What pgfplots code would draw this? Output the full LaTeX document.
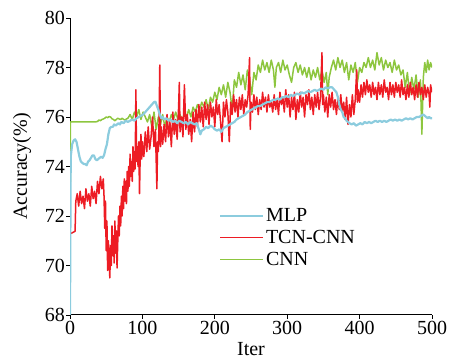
\documentclass[border=0pt]{standalone}
\usepackage{fontspec}
\setmainfont{Liberation Serif}
\usepackage{pgfplots}
\pgfplotsset{compat=1.18}
\definecolor{mlp}{RGB}{140,204,222}
\definecolor{tcn}{RGB}{237,28,36}
\definecolor{cnn}{RGB}{141,198,63}
\begin{document}
\begin{tikzpicture}
\begin{axis}[
 name=ax,
 at={(0,0)}, anchor=south west,
 scale only axis, width=362pt, height=297pt,
 xmin=0, xmax=500, ymin=68, ymax=80,
 axis lines=left, axis line style={-, line width=1pt, black},
 xtick={0,100,...,500}, ytick={68,70,...,80},
 tick align=outside, major tick length=4pt, tick style={black, line width=0.9pt},
 /pgf/number format/assume math mode=true,
 tick label style={font=\fontsize{20}{24}\selectfont},
 yticklabel style={inner sep=1pt},
 xticklabel style={inner sep=2pt},
 label style={font=\fontsize{20}{24}\selectfont},
 xlabel={Iter}, ylabel={Accuracy(\%)},
 xlabel style={at={(axis description cs:0.5,-0.1347)}, anchor=base, inner sep=0pt},
 ylabel style={at={(axis description cs:-0.1326,0.5)}, anchor=center, inner sep=0pt},
 legend style={at={(axis description cs:0.405,0.372)}, anchor=north west, draw=none, fill=none,
   font=\fontsize{20}{22}\selectfont, row sep=3pt},
 legend cell align=left,
 reverse legend,
 legend image code/.code={\draw[#1, line width=1.2pt] (0pt,0pt) -- (43pt,0pt);},
 every axis plot/.append style={line join=round},
]
\addplot[cnn, line width=1.5pt] coordinates {
(0,68)(0.5,75.8)(5,75.8)(10,75.8)(15,75.8)(20,75.8)(25,75.8)(30,75.8)(35,75.8)(38,75.82)(40,75.88)(42,75.85)(44,75.9)(46,75.92)(48,75.95)(50,76.0)(52,75.97)(54,76.02)(56,76.0)(58,75.93)(60,75.9)(62,75.85)(64,75.9)(66,75.95)(68,75.92)(70,75.9)(72,75.95)(74,75.9)(76,75.88)(78,75.92)
(80,75.95)(83,76.1)(86,75.9)(89,76.2)(92,76.0)(95,76.3)(98,75.9)(101,76.2)(104,76.0)(107,75.8)(110,76.1)(113,75.6)(116,76.2)(119,75.5)(122,76.0)(125,75.7)(128,76.1)(131,75.6)(134,76.0)(137,75.8)(140,76.1)(143,75.9)(146,76.2)(149,75.9)(152,76.1)(155,75.8)(158,76.2)(161,76.0)(164,76.3)(167,76.0)(170,76.4)(173,76.2)(176,76.5)(179,76.3)(182,76.6)(185,76.4)(188,76.7)(191,76.3)(194,76.8)(197,76.6)(200,77.0)(203,76.7)(206,77.2)(209,76.9)(212,77.3)(215,76.8)(218,77.4)(221,77.0)(224,76.3)(227,77.5)(230,77.2)(233,77.8)(236,77.3)(239,77.7)(242,77.1)(245,77.9)(248,77.5)(251,76.9)(254,77.8)(257,77.5)(260,78.1)(263,77.8)(266,78.3)(269,77.9)(272,78.2)(275,77.8)(278,78.3)(281,77.9)(283,77.2)(285,78.0)(288,78.2)(291,77.8)(294,78.3)(297,77.9)(300,78.1)(303,77.7)(306,77.4)(309,78.0)(312,78.2)(315,77.8)(318,78.1)(321,77.7)(324,78.0)(327,77.6)(330,78.0)(333,77.5)(336,77.9)(339,77.6)(342,78.0)(345,77.5)(348,77.9)(351,77.4)(354,77.8)(356,76.9)(358,77.6)(361,78.0)(364,78.3)(367,77.9)(370,78.4)(373,78.0)(376,78.3)(379,77.8)(382,78.2)(385,77.5)(388,78.1)(391,77.8)(394,78.2)(397,77.4)(400,78.0)(403,77.8)(406,78.2)(409,78.0)(412,78.4)(415,78.0)(418,78.3)(421,77.9)(424,78.6)(427,78.1)(430,78.4)(433,77.9)(436,78.3)(439,78.0)(442,78.2)(445,77.8)(448,78.3)(451,77.9)(454,78.1)(457,77.7)(460,77.9)(463,77.2)(466,77.8)(469,76.9)(472,77.6)(475,77.1)(478,77.7)(481,76.8)(484,77.5)(486,75.3)(488,77.6)(490,78.2)(492,77.8)(494,78.3)(496,77.9)(498,78.2)(500,78.0)
};
\addlegendentry{CNN}
\addplot[tcn, line width=1.5pt] coordinates {
(1,71.3)(3,71.32)(5,71.35)(7,71.38)(8,72.6)
(10,72.9)(12,72.4)(14,73.0)(16,72.5)(18,72.8)(20,72.3)(22,73.1)(24,72.6)(26,72.9)(28,72.4)(30,73.2)(32,72.7)(34,73.0)(36,72.5)(38,73.4)(40,72.9)(42,73.6)(44,73.1)(46,73.5)(47,72.8)
(48,71.5)(49,72.6)(50,70.6)(51,71.8)(52,69.8)(53,71.0)(54,70.2)(55,69.5)(56,70.8)(57,70.0)(58,71.6)(59,70.4)(60,71.2)(61,70.1)(62,71.8)(63,70.5)(64,71.4)(65,69.9)(66,71.0)(67,72.0)(68,71.2)(69,72.4)(70,71.6)(71,72.8)(72,72.0)(73,73.2)(74,72.3)(75,73.5)(76,72.6)(77,73.4)(78,72.5)(79,73.8)(80,73.0)(81,74.0)(82,73.2)(83,74.5)(84,73.6)(85,74.2)(86,73.4)(87,74.8)(88,73.8)(89,74.6)(90,73.9)(91,77.1)(92,74.2)(93,74.8)(94,74.0)(95,75.0)(96,72.9)(97,74.5)(98,75.3)(99,74.3)(100,75.0)(102,74.4)(104,75.4)(106,74.6)(108,75.6)(110,74.7)(112,75.2)(114,76.0)(116,74.8)(118,75.5)(120,73.1)(121,75.0)(122,74.6)(123,75.8)(124,78.1)(125,74.8)(126,75.6)(128,74.9)(130,75.7)(132,75.0)(134,76.1)(136,75.2)(138,75.8)(140,74.8)(142,76.2)(144,75.3)(146,75.9)(148,75.1)(150,76.4)(151,77.4)(152,75.4)(154,76.0)(156,75.2)(158,77.3)(160,75.5)(162,76.1)(164,75.3)(166,75.9)(168,75.0)(170,76.2)(172,75.4)(174,76.3)(176,75.6)(178,76.5)(180,75.8)(182,76.4)(184,75.6)(186,76.6)(188,75.9)(190,76.5)(192,75.7)(194,76.6)(196,76.0)(198,76.4)(200,75.6)(202,76.7)(204,76.1)(206,76.5)(208,75.8)(210,75.0)(212,76.6)(214,76.0)(216,76.7)(218,76.2)(220,75.0)(222,76.6)(224,76.1)(226,76.9)(228,76.2)(230,76.7)(232,76.0)(234,76.8)(236,76.3)(238,76.9)(240,76.1)(242,76.7)(244,76.4)(246,76.9)(248,78.4)(249,75.5)(250,76.6)(252,76.2)(254,76.9)(256,76.3)(258,76.8)(260,76.1)(262,76.7)(264,76.3)(266,77.0)(268,76.4)(270,76.8)(272,76.2)(274,76.9)(276,76.4)(278,76.6)(280,76.2)(282,76.9)(284,76.3)(286,76.7)(288,76.1)(290,77.0)(292,76.5)(294,76.8)(296,76.2)(298,77.1)(300,76.4)(302,76.9)(304,76.0)(306,76.8)(308,76.3)(310,77.0)(312,75.9)(314,76.7)(316,76.2)(318,77.0)(320,76.4)(322,76.8)(324,76.0)(326,76.9)(328,76.5)(330,77.1)(332,76.3)(334,76.8)(336,76.1)(338,76.9)(340,76.4)(342,77.0)(344,76.3)(346,76.8)(348,78.6)(349,76.5)(350,76.9)(352,76.2)(354,76.8)(356,76.0)(358,76.9)(360,76.4)(362,77.0)(364,76.3)(366,76.7)(368,76.1)(370,76.8)(372,76.3)(374,76.9)(376,76.2)(378,76.6)(380,75.9)(382,76.8)(384,75.7)(386,76.5)(388,76.0)(390,76.9)(392,76.1)(394,76.7)(396,77.9)(397,76.6)(398,77.1)(400,76.6)(402,77.3)(404,76.8)(406,77.4)(408,76.9)(410,77.5)(412,77.0)(414,77.3)(416,76.8)(418,77.4)(420,76.9)(422,77.2)(424,76.7)(426,77.4)(428,76.9)(430,77.3)(432,76.8)(434,77.5)(436,77.0)(438,77.2)(440,76.7)(442,77.4)(444,76.9)(446,77.3)(448,76.8)(450,77.4)(452,77.0)(454,77.3)(456,76.8)(458,77.5)(460,76.9)(462,77.2)(464,76.7)(466,77.3)(468,76.8)(470,77.4)(472,76.9)(474,77.2)(476,76.7)(478,77.3)(480,76.8)(482,77.4)(484,76.9)(486,77.2)(488,76.7)(490,77.3)(492,76.8)(494,77.2)(496,76.9)(497,76.4)(498,77.3)(500,77.0)
};
\addlegendentry{TCN-CNN}
\addplot[mlp, line width=2.2pt] coordinates {
(0,68)(1,74.4)(3,74.9)(5,75.05)(7,75.1)(9,75.0)(11,74.7)(13,74.4)(15,74.2)(17,74.15)(19,74.1)(21,74.1)(23,74.05)(25,74.2)(27,74.25)(29,74.35)(31,74.45)(33,74.45)(35,74.3)(37,74.25)(39,74.3)(41,74.35)(43,74.4)(45,74.35)(47,74.45)(49,74.7)(51,74.9)(53,75.3)(55,75.55)(57,75.6)(59,75.6)(61,75.7)(63,75.65)(65,75.7)(67,75.75)(69,75.7)(71,75.8)(74,75.75)(77,75.85)(80,75.8)(83,75.85)(86,75.9)(89,75.85)(92,75.95)(95,76.0)(98,76.05)(101,76.1)(104,76.2)(107,76.3)(110,76.4)(113,76.5)(116,76.6)(118,76.62)(120,76.45)(122,76.3)(124,76.1)(126,75.95)(128,76.0)(130,75.9)(133,75.95)(136,75.85)(139,75.9)(142,75.8)(145,75.85)(148,75.75)(151,75.85)(154,75.8)(157,75.75)(160,75.8)(163,75.7)(166,75.8)(169,75.75)(172,75.7)(175,75.75)(178,75.5)(180,75.3)(182,75.45)(185,75.5)(188,75.6)(191,75.55)(194,75.65)(197,75.6)(200,75.5)(203,75.45)(206,75.5)(209,75.4)(212,75.55)(215,75.6)(218,75.65)(221,75.7)(224,75.75)(227,75.8)(230,75.9)(233,75.95)(236,76.0)(239,76.05)(242,76.1)(245,76.2)(248,76.25)(251,76.3)(254,76.35)(257,76.4)(260,76.45)(263,76.45)(266,76.5)(269,76.55)(272,76.6)(275,76.6)(278,76.65)(281,76.7)(284,76.7)(287,76.75)(290,76.7)(293,76.8)(296,76.8)(299,76.85)(302,76.8)(305,76.9)(308,76.85)(311,76.9)(314,76.95)(317,76.9)(320,77.0)(323,76.95)(326,77.0)(329,77.05)(332,77.0)(335,77.05)(338,77.1)(341,77.05)(344,77.1)(347,77.15)(350,77.1)(353,77.2)(356,77.15)(359,77.2)(362,77.2)(365,77.1)(368,77.0)(370,76.8)(372,76.5)(374,76.3)(376,76.2)(378,76.0)(380,75.95)(382,75.85)(384,75.8)(386,75.75)(389,75.7)(392,75.75)(395,75.65)(398,75.7)(401,75.75)(404,75.7)(407,75.8)(410,75.75)(413,75.8)(416,75.75)(419,75.8)(422,75.85)(425,75.8)(428,75.85)(431,75.8)(434,75.85)(437,75.8)(440,75.85)(443,75.9)(446,75.85)(449,75.9)(452,75.85)(455,75.9)(458,75.85)(461,75.9)(464,75.95)(467,75.9)(470,75.95)(473,75.9)(476,75.95)(479,76.0)(482,76.0)(485,76.05)(488,76.1)(490,76.05)(492,76.0)(494,75.95)(496,76.0)(498,75.95)(500,75.95)
};
\addlegendentry{MLP}
\end{axis}
\pgfresetboundingbox
\path[use as bounding box] ([shift={(-70pt,-45pt)}]ax.south west) rectangle ([shift={(19pt,18pt)}]ax.north east);
\end{tikzpicture}
\end{document}
